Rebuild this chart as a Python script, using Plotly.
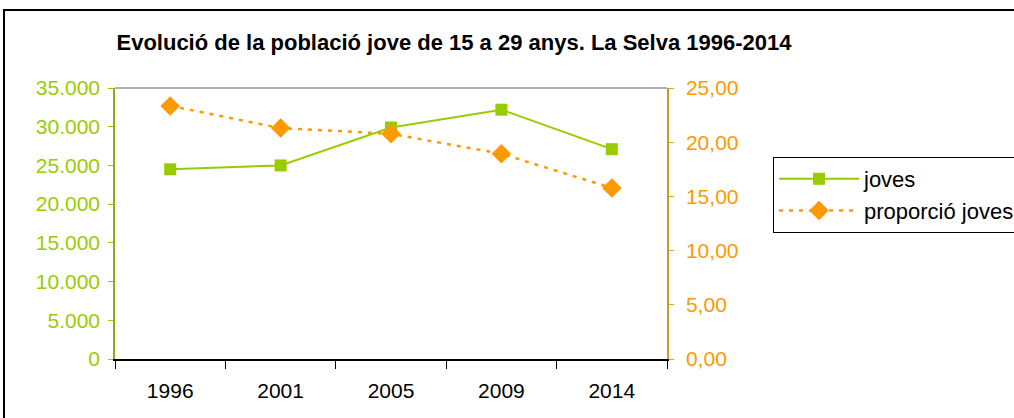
import plotly.graph_objects as go

years = ["1996", "2001", "2005", "2009", "2014"]
joves = [24500, 25000, 29900, 32200, 27100]
proporcio = [23.35, 21.3, 20.77, 18.93, 15.78]

title = "Evolució de la població jove de 15 a 29 anys. La Selva 1996-2014"
green = "#99CC00"
orange = "#FF9900"

fig = go.Figure()
fig.add_trace(go.Scatter(
    x=years, y=joves, name="joves", mode="lines+markers",
    line=dict(color=green, width=2),
    marker=dict(symbol="square", size=12, color=green),
))
fig.add_trace(go.Scatter(
    x=years, y=proporcio, name="proporció joves", mode="lines+markers", yaxis="y2",
    line=dict(color=orange, width=2.5, dash="4px,6px"),
    marker=dict(symbol="diamond", size=15, color=orange),
))

W, H = 1014, 418
L, R, T, B = 115, 667, 88, 359

fig.update_layout(
    width=W, height=H,
    margin=dict(l=L, r=W - R, t=T, b=H - B, pad=0, autoexpand=False),
    paper_bgcolor="white", plot_bgcolor="white",
    separators=",.",
    font=dict(family="Liberation Sans, Arial, sans-serif", size=21, color="black"),
    title=dict(text="<b>" + title + "</b>", x=454 / W, xanchor="center",
               y=1 - 42 / H, yanchor="middle", font=dict(size=22, color="black")),
    showlegend=True,
    legend=dict(x=(773 - L) / (R - L), xanchor="left", y=(B - 157) / (B - T), yanchor="top",
                bordercolor="black", borderwidth=1, bgcolor="white",
                font=dict(size=22), tracegroupgap=0, itemwidth=80),
    xaxis=dict(type="category", range=[-0.5, 4.5], tickson="boundaries",
               ticks="outside", ticklen=8, tickcolor="black", showgrid=False,
               showline=True, linecolor="black", linewidth=1.5,
               tickfont=dict(size=21, color="black"), ticklabelstandoff=12),
    yaxis=dict(range=[0, 35000], dtick=5000, tickformat=",d", showgrid=False,
               ticks="outside", ticklen=5, tickcolor=green,
               showline=True, linecolor="#8FAA22", linewidth=1.5,
               tickfont=dict(size=21, color=green), zeroline=False,
               ticklabelstandoff=4),
    yaxis2=dict(range=[0, 25], dtick=5, tickformat=".2f", overlaying="y", side="right",
                showgrid=False, ticks="outside", ticklen=5, tickcolor=orange,
                showline=True, linecolor="#CC9933", linewidth=1.5,
                tickfont=dict(size=21, color=orange), zeroline=False,
                ticklabelstandoff=8),
    shapes=[
        dict(type="line", xref="paper", yref="paper", x0=0, x1=1, y0=1, y1=1,
             line=dict(color="#999999", width=1.5)),
        dict(type="rect", xref="paper", yref="paper",
             x0=(4 - L) / (R - L), x1=(1030 - L) / (R - L),
             y0=(B - 430) / (B - T), y1=(B - 10) / (B - T),
             line=dict(color="black", width=2), layer="below"),
    ],
)

fig.write_html("out.html", config={"displayModeBar": False},
               post_script="document.body.style.margin='0';")
